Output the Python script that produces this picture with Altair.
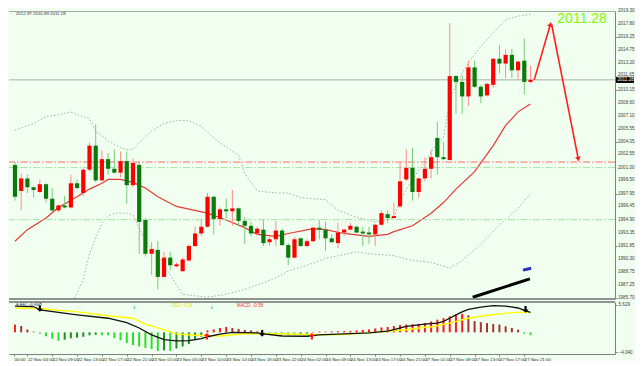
import altair as alt
import pandas as pd

# ---------------- candles (H1 bars, index k) ----------------
opens = [2001.31, 1998.26, 1999.73, 1998.71, 1998.14, 1999.05, 1997.35, 1995.99, 1996.56, 1996.33,
         1999.16, 1998.03, 2000.75, 2003.57, 1999.50, 2001.99, 2000.86, 2000.41, 2001.76, 1998.94,
         2001.31, 1994.86, 1990.90, 1991.36, 1988.19, 1990.45, 1989.43, 1988.87, 1990.11, 1991.81,
         1993.28, 1994.07, 1997.58, 1994.98, 1996.11, 1995.88, 1996.22, 1994.75, 1994.18, 1993.28,
         1993.73, 1992.26, 1992.60, 1993.62, 1991.92, 1990.45, 1992.71, 1991.81, 1992.37, 1993.96,
         1993.73, 1992.71, 1992.15, 1993.39, 1993.73, 1994.07, 1993.50, 1993.39, 1993.17, 1994.30,
         1995.54, 1995.09, 1996.45, 1999.61, 2000.97, 1998.14, 1999.73, 2000.86, 2004.48, 2002.22,
         2001.88, 2011.72, 2011.04, 2009.34, 2012.74, 2010.47, 2009.46, 2010.70, 2013.75, 2013.19,
         2014.21, 2012.40, 2013.53, 2011.04]
highs = [2001.65, 2000.29, 2000.18, 1998.75, 1999.61, 1999.16, 1998.60, 1996.67, 1997.69, 2000.18,
         1999.61, 2000.97, 2003.91, 2006.06, 2003.01, 2002.67, 2003.12, 2002.90, 2002.90, 2002.10,
         2001.65, 1995.09, 1992.26, 1992.37, 1991.13, 1991.13, 1989.89, 1990.45, 1992.03, 1994.07,
         1994.98, 1998.03, 1997.69, 1996.33, 1997.35, 1998.37, 1996.33, 1995.20, 1994.64, 1994.07,
         1994.86, 1992.83, 1994.75, 1993.84, 1992.15, 1992.83, 1992.83, 1992.60, 1994.07, 1994.86,
         1994.64, 1993.17, 1994.52, 1993.84, 1994.52, 1994.18, 1994.07, 1994.07, 1994.41, 1995.99,
         1995.99, 1996.90, 2001.65, 2003.12, 2003.35, 1999.84, 2002.22, 2003.12, 2006.40, 2004.03,
         2017.94, 2011.83, 2011.83, 2013.53, 2013.53, 2010.70, 2010.93, 2013.87, 2015.34, 2014.89,
         2014.89, 2013.53, 2016.13, 2012.97]
lows = [1997.13, 1995.99, 1998.03, 1997.47, 1998.03, 1996.90, 1995.77, 1995.77, 1996.22, 1996.22,
        1998.48, 1997.69, 2000.52, 1999.27, 1999.39, 2000.18, 2000.29, 1999.84, 1996.79, 1998.71,
        1990.90, 1990.57, 1988.42, 1986.72, 1988.08, 1988.98, 1989.32, 1988.75, 1990.00, 1991.70,
        1992.94, 1993.96, 1993.17, 1994.18, 1995.09, 1994.18, 1994.07, 1992.03, 1992.94, 1993.05,
        1991.81, 1991.81, 1991.81, 1991.81, 1989.55, 1990.34, 1991.70, 1991.70, 1992.26, 1992.60,
        1991.24, 1992.15, 1991.58, 1992.94, 1993.62, 1993.28, 1991.81, 1992.03, 1991.81, 1994.18,
        1994.52, 1994.98, 1996.33, 1999.39, 1997.13, 1997.47, 1999.39, 1999.73, 2000.18, 2001.88,
        2001.88, 2007.31, 2007.31, 2008.21, 2010.36, 2008.55, 2009.34, 2010.36, 2012.06, 2011.49,
        2011.49, 2011.38, 2009.57, 2010.89]
closes = [1997.58, 1999.73, 1998.71, 1998.37, 1999.05, 1997.35, 1995.99, 1996.56, 1996.33, 1999.16,
          1998.60, 2000.75, 2003.57, 1999.50, 2001.99, 2000.86, 2000.41, 2001.76, 1998.94, 2001.54,
          1994.64, 1990.90, 1991.47, 1988.19, 1990.45, 1989.55, 1989.66, 1990.23, 1991.81, 1993.28,
          1994.07, 1997.58, 1994.98, 1996.11, 1995.88, 1996.22, 1994.75, 1994.18, 1993.28, 1993.84,
          1992.15, 1992.60, 1993.62, 1991.92, 1990.45, 1992.60, 1991.81, 1992.37, 1993.96, 1993.73,
          1992.71, 1992.26, 1993.39, 1993.73, 1994.18, 1993.39, 1993.28, 1993.17, 1994.30, 1995.66,
          1995.09, 1995.32, 1999.39, 2000.97, 1998.14, 1999.73, 2000.86, 2002.22, 2002.22, 2001.99,
          2011.72, 2011.04, 2009.34, 2012.74, 2010.47, 2009.34, 2010.81, 2013.75, 2013.19, 2014.21,
          2012.40, 2013.42, 2011.04, 2011.28]

# ---------------- Bollinger middle / upper / lower ----------------
ma_k = [0, 2, 5, 7, 10, 12, 14, 15, 17, 19, 21, 23, 26, 31, 34, 37, 39, 42, 44, 48, 50, 53, 57, 60,
        61, 64, 67, 69, 71, 74, 77, 79, 81, 83]
ma_v = [1992.37, 1993.73, 1995.09, 1996.33, 1997.58, 1998.48, 1999.16, 1999.61, 1999.61, 1999.27,
        1998.60, 1997.58, 1996.45, 1995.66, 1994.86, 1993.96, 1993.17, 1992.94, 1993.28, 1993.84,
        1993.73, 1993.28, 1992.94, 1993.17, 1993.50, 1994.18, 1995.66, 1996.90, 1998.48, 2000.52,
        2003.57, 2005.95, 2007.53, 2008.44]
up_k = [0, 3, 5, 7, 9, 10, 12, 13, 15, 17, 18, 19, 20, 22, 24, 26, 28, 30, 32, 33, 36, 37, 39, 42,
        44, 46, 50, 52, 55, 58, 61, 62, 64, 66, 68, 69, 70, 71, 72, 73, 75, 77, 79, 81, 83]
up_v = [2005.38, 2006.18, 2006.97, 2007.19, 2007.53, 2007.19, 2006.74, 2005.27, 2004.14, 2003.35,
        2003.12, 2003.12, 2003.91, 2005.27, 2006.18, 2006.51, 2006.51, 2005.84, 2004.48, 2003.91,
        2002.44, 2000.30, 1998.26, 1998.03, 1998.03, 1997.47, 1997.24, 1995.99, 1995.20, 1994.64,
        1995.09, 1997.13, 1999.61, 2001.65, 2003.91, 2004.50, 2008.80, 2010.60, 2012.10, 2013.30,
        2015.20, 2016.80, 2018.30, 2018.75, 2018.96]
lo_k = [0, 4, 7, 9, 10, 11, 12, 14, 15, 16, 18, 19, 21, 23, 25, 27, 31, 34, 37, 40, 42, 44, 47, 50,
        55, 57, 61, 64, 67, 70, 72, 75, 78, 81, 83]
lo_v = [1979.50, 1981.33, 1983.40, 1984.90, 1986.30, 1987.90, 1990.90, 1994.52, 1995.32, 1995.66,
        1995.66, 1995.43, 1992.37, 1990.68, 1988.42, 1986.15, 1985.81, 1986.15, 1986.72, 1987.51,
        1988.08, 1988.87, 1989.55, 1990.34, 1991.13, 1990.90, 1990.68, 1990.11, 1989.90, 1989.20,
        1990.11, 1992.03, 1994.30, 1996.22, 1997.92]

# ---------------- MACD panel ----------------
hist_v = [1.6, 1.3, 0.6, 0.15, -0.25, -0.8, -1.3, -1.7, -1.5, -1.2,
          -1.1, -0.9, -0.6, -0.5, -0.6, -0.6, -1.2, -1.6, -2.2, -2.6,
          -2.9, -3.2, -3.4, -3.8, -3.7, -3.8, -3.3, -2.9, -2.4, -1.6,
          -0.9, 0.4, 0.6, 0.9, 1.1, 0.9, 0.7, 0.5, 0.4, 0.2,
          -0.1, -0.3, -0.4, -0.5, -0.6, -0.6, -0.5, -0.3, 0.1, 0.15,
          0.15, 0.2, 0.2, 0.25, 0.3, 0.4, 0.5, 0.6, 0.8, 1.0,
          1.1, 1.3, 1.5, 1.6, 1.7, 1.75, 1.9, 2.25, 2.6, 2.9,
          3.3, 3.7, 3.8, 3.5, 2.3, 2.1, 1.9, 1.7, 1.6, 1.25,
          0.9, 0.55, -0.3, -0.58]
dif_k = [0, 3, 4, 10, 15, 18, 20, 22, 24, 26, 28, 30, 31, 33, 35, 37, 39, 40, 43, 47, 49, 53, 57,
         60, 61, 63, 66, 68, 69, 70, 71, 72, 73, 75, 77, 79, 81, 82, 83]
dif_v = [5.4, 5.3, 4.6, 3.6, 2.9, 2.0, 0.9, -0.5, -1.5, -1.75, -1.7, -1.3, -0.9, -0.35, 0.0, -0.05,
         -0.1, -0.3, -0.75, -0.8, -0.5, -0.3, -0.1, 0.25, 0.55, 1.25, 1.7, 1.9, 2.25, 2.9, 3.6, 4.2,
         4.7, 5.2, 5.5, 5.4, 5.0, 4.5, 4.1]
dea_k = [0, 4, 10, 15, 19, 21, 24, 26, 29, 33, 37, 42, 47, 52, 57, 60, 63, 66, 67, 70, 73, 76, 79,
         81, 83]
dea_v = [5.0, 4.9, 4.2, 3.4, 2.9, 1.7, 0.5, -0.3, -0.6, -0.75, -0.3, -0.3, -0.45, -0.5, -0.1, 0.2,
         0.55, 1.05, 1.1, 1.9, 2.9, 3.5, 3.9, 4.1, 4.18]

# ---------------- axis texts ----------------
price_ticks = [2019.30, 2017.80, 2016.25, 2014.75, 2013.20, 2011.65, 2010.15, 2008.60, 2007.10,
               2005.55, 2004.05, 2002.55, 2001.00, 1999.50, 1997.95, 1996.45, 1994.90, 1993.35,
               1991.85, 1990.30, 1988.75, 1987.25, 1985.70]
macd_ticks = [5.629, 0.0, -4.040]
time_labels = ["22 Nov 04:00", "22 Nov 09:00", "22 Nov 13:00", "22 Nov 17:00", "22 Nov 21:00",
               "23 Nov 01:00", "23 Nov 05:00", "23 Nov 10:00", "23 Nov 14:00", "23 Nov 18:00",
               "23 Nov 22:00", "24 Nov 02:00", "24 Nov 09:00", "24 Nov 13:00", "24 Nov 17:00",
               "24 Nov 21:00", "27 Nov 01:00", "27 Nov 09:00", "27 Nov 13:00", "27 Nov 17:00",
               "27 Nov 21:00"]

last_price = closes[-1]
h_levels = [2001.65, 2001.00, 1994.90]
h_colors = ["#FF6A6A", "#A4E4A4", "#A4E4A4"]

# ---------------- layout ----------------
W = 606
H_MAIN = 288
H_LOW = 52
FONT = "Liberation Sans"
xs = alt.Scale(domain=[-0.156, 95.8], nice=False, zero=False)
ps = alt.Scale(domain=[1985.6, 2019.35], nice=False, zero=False)
ms = alt.Scale(domain=[-4.44, 6.23], nice=False, zero=False)
X = alt.X("k:Q", scale=xs, axis=None)

cdf = pd.DataFrame({"k": list(range(len(opens))), "o": opens, "h": highs, "l": lows, "c": closes})
bull = cdf["c"] >= cdf["o"]
cdf["body"] = ["#FF0000" if b else "#0B7A0B" for b in bull]
cdf["wick"] = ["#FF8C8C" if b else "#7ACB7A" for b in bull]

# price axis: ticks from the axis, labels as text marks so that every label is kept
tick_df = pd.DataFrame({"p": price_ticks, "t": [f"{v:.2f}" for v in price_ticks]})
near = (tick_df["p"] - last_price).abs() < 0.8
yaxis = alt.Axis(orient="right", values=price_ticks, labels=False, tickSize=2, tickColor="#808080",
                 domainColor="#808080", grid=False, title=None)
tick_labels = alt.Chart(tick_df[~near]).mark_text(
    align="left", baseline="middle", fontSize=4.6, font=FONT, color="#404040").encode(
    x=alt.value(W + 3), y=alt.Y("p:Q", scale=ps), text="t:N")
tick_labels_near = alt.Chart(tick_df[near]).mark_text(
    align="left", baseline="bottom", fontSize=4.6, font=FONT, color="#404040", dy=0.5).encode(
    x=alt.value(W + 3), y=alt.Y("p:Q", scale=ps), text="t:N")

base_frame = alt.Chart(pd.DataFrame({"a": [0]}))
top_border = base_frame.mark_rule(color="#A8A8A8", strokeWidth=1).encode(
    x=alt.value(0), x2=alt.value(W), y=alt.value(0.5))
sep_main = base_frame.mark_rule(color="#707070", strokeWidth=1.5).encode(
    x=alt.value(0), x2=alt.value(W), y=alt.value(H_MAIN))

band_style = dict(strokeDash=[1.5, 2], color="#A4AEA4", strokeWidth=1, clip=True)
upper = alt.Chart(pd.DataFrame({"k": up_k, "v": up_v})).mark_line(**band_style).encode(
    x=X, y=alt.Y("v:Q", scale=ps, axis=yaxis))
lower = alt.Chart(pd.DataFrame({"k": lo_k, "v": lo_v})).mark_line(**band_style).encode(
    x=X, y=alt.Y("v:Q", scale=ps))
mid = alt.Chart(pd.DataFrame({"k": ma_k, "v": ma_v})).mark_line(
    color="#E53935", strokeWidth=1.2, clip=True).encode(x=X, y=alt.Y("v:Q", scale=ps))

hdf = pd.DataFrame({"p": h_levels, "col": h_colors})
hlines = alt.Chart(hdf).mark_rule(strokeDash=[7, 2, 1.5, 2], strokeWidth=1).encode(
    y=alt.Y("p:Q", scale=ps), color=alt.Color("col:N", scale=None))
pline = alt.Chart(pd.DataFrame({"p": [last_price]})).mark_rule(color="#ABABAB", strokeWidth=1).encode(
    y=alt.Y("p:Q", scale=ps))

wicks = alt.Chart(cdf).mark_rule(strokeWidth=1).encode(
    x=X, y=alt.Y("l:Q", scale=ps), y2="h:Q", color=alt.Color("wick:N", scale=None))
bodies = alt.Chart(cdf).mark_bar(size=4.2, orient="vertical").encode(
    x=X, y=alt.Y("o:Q", scale=ps), y2="c:Q", color=alt.Color("body:N", scale=None))

# indicator strokes near the bottom right
blk = alt.Chart(pd.DataFrame({"k": [73.7, 82.9], "v": [1985.81, 1987.96]})).mark_line(
    color="#000000", strokeWidth=3, clip=True).encode(x=X, y=alt.Y("v:Q", scale=ps))
blu = alt.Chart(pd.DataFrame({"k": [81.8, 83.1], "v": [1988.98, 1989.21]})).mark_line(
    color="#2030C0", strokeWidth=3).encode(x=X, y=alt.Y("v:Q", scale=ps))

# forecast arrows
arr = pd.DataFrame({"k": [83.6, 86.2, 86.4, 90.7],
                    "v": [last_price, 2017.80, 2017.80, 2001.99],
                    "seg": ["a", "a", "b", "b"]})
arrows = alt.Chart(arr).mark_line(color="#FF2020", strokeWidth=1.6).encode(
    x=X, y=alt.Y("v:Q", scale=ps), detail="seg:N")
head_up = alt.Chart(arr.iloc[[1]]).mark_point(shape="triangle-up", filled=True, size=30,
                                              color="#FF2020", opacity=1, angle=17).encode(
    x=X, y=alt.Y("v:Q", scale=ps))
head_dn = alt.Chart(arr.iloc[[3]]).mark_point(shape="triangle-up", filled=True, size=30,
                                              color="#FF2020", opacity=1, angle=169).encode(
    x=X, y=alt.Y("v:Q", scale=ps))

info = alt.Chart(pd.DataFrame({"k": [0.15], "v": [2019.05],
                               "t": ["2012.97 2010.89 2011.28"]})).mark_text(
    align="left", baseline="middle", fontSize=4.4, font=FONT, color="#303030").encode(
    x=X, y=alt.Y("v:Q", scale=ps), text="t:N")
big = alt.Chart(pd.DataFrame({"k": [95.3], "v": [2018.45], "t": [f"{last_price:.2f}"]})).mark_text(
    align="right", baseline="middle", fontSize=14, font=FONT, color="#7CFC00").encode(
    x=X, y=alt.Y("v:Q", scale=ps), text="t:N")
box_path = "M-1,-0.34 L1,-0.34 L1,0.34 L-1,0.34 Z"
pbox = alt.Chart(pd.DataFrame({"p": [last_price]})).mark_point(
    shape=box_path, filled=True, size=324, color="#000000", opacity=1).encode(
    x=alt.value(W + 10), y=alt.Y("p:Q", scale=ps))
ptxt = alt.Chart(pd.DataFrame({"p": [last_price], "t": [f"{last_price:.2f}"]})).mark_text(
    align="left", baseline="middle", fontSize=4.6, font=FONT, color="#FFFFFF").encode(
    x=alt.value(W + 2.5), y=alt.Y("p:Q", scale=ps), text="t:N")

main = alt.layer(upper, lower, mid, hlines, pline, wicks, bodies, blk, blu, arrows, head_up,
                 head_dn, info, big, top_border, sep_main, tick_labels, tick_labels_near,
                 pbox, ptxt).properties(width=W, height=H_MAIN)

# ---------------- MACD panel ----------------
mdf = pd.DataFrame({"k": list(range(len(hist_v))), "v": hist_v})
mdf["z"] = 0.0
prev = [hist_v[0]] + hist_v[:-1]
cols = []
for v, pv in zip(hist_v, prev):
    if v > 0:
        cols.append("#FF1A1A" if v >= pv else "#A83232")
    else:
        cols.append("#2EDB2E" if v <= pv else "#1E8C1E")
mdf["col"] = cols

label_arr = "[" + ",".join("'" + s + "'" for s in time_labels) + "]"
xaxis = alt.Axis(values=[-0.15] + [2 + 4 * j for j in range(len(time_labels))],
                 labelExpr="datum.value < 0 ? '00:00' : " + label_arr + "[round((datum.value - 2) / 4)]",
                 labelAlign="left", labelFontSize=4.4, labelFont=FONT, labelColor="#303030",
                 labelPadding=1, tickSize=2, tickColor="#808080", domainColor="#808080",
                 labelFlush=False, labelOverlap=False, labelBound=False, grid=False, title=None)
XL = alt.X("k:Q", scale=xs, axis=xaxis)
maxis = alt.Axis(orient="right", values=macd_ticks,
                 labelExpr="datum.value == 0 ? '0.00' : format(datum.value, '.3f')",
                 labelFontSize=4.6, labelFont=FONT, labelColor="#404040", tickSize=2,
                 tickColor="#808080", domainColor="#808080", labelPadding=1, grid=False,
                 title=None, labelOverlap=False)

hist = alt.Chart(mdf).mark_bar(size=2, orient="vertical").encode(
    x=XL, y=alt.Y("v:Q", scale=ms, axis=maxis), y2="z:Q", color=alt.Color("col:N", scale=None))
dea = alt.Chart(pd.DataFrame({"k": dea_k, "v": dea_v})).mark_line(
    color="#FFFF00", strokeWidth=1.4).encode(x=XL, y=alt.Y("v:Q", scale=ms))
dif = alt.Chart(pd.DataFrame({"k": dif_k, "v": dif_v})).mark_line(
    color="#111111", strokeWidth=1.3).encode(x=XL, y=alt.Y("v:Q", scale=ms))

dn_path = "M0,1 L-0.9,0.05 L-0.32,0.05 L-0.32,-1 L0.32,-1 L0.32,0.05 L0.9,0.05 Z"
up_path = "M0,-1 L-0.9,-0.05 L-0.32,-0.05 L-0.32,1 L0.32,1 L0.32,-0.05 L0.9,-0.05 Z"
dn_pts = alt.Chart(pd.DataFrame({"k": [4, 39.8, 82.2], "v": [4.9, -0.2, 4.7]})).mark_point(
    shape=dn_path, filled=True, size=45, color="#000000", opacity=1).encode(
    x=XL, y=alt.Y("v:Q", scale=ms))
up_pts = alt.Chart(pd.DataFrame({"k": [30.9, 47.8], "v": [-0.8, -0.8]})).mark_point(
    shape=up_path, filled=True, size=45, color="#FF1A1A", opacity=1).encode(
    x=XL, y=alt.Y("v:Q", scale=ms))

ltxt = pd.DataFrame({"k": [0.15, 25.2, 35.7], "v": [5.55, 5.45, 5.45],
                     "t": ["4.447 -0.498", "DEA:   4.18", "MACD:  -0.58"],
                     "col": ["#404040", "#E8E800", "#FF3030"]})
ltexts = alt.Chart(ltxt).mark_text(align="left", baseline="middle", fontSize=4.6, font=FONT).encode(
    x=XL, y=alt.Y("v:Q", scale=ms), text="t:N", color=alt.Color("col:N", scale=None))
garr = alt.Chart(pd.DataFrame({"k": [19.2, 31.7], "v": [5.3, 5.3], "t": ["↓", "↓"]})).mark_text(
    align="center", baseline="middle", fontSize=6, font="DejaVu Sans", color="#3CC83C").encode(
    x=XL, y=alt.Y("v:Q", scale=ms), text="t:N")

sep_low = base_frame.mark_rule(color="#707070", strokeWidth=1.5).encode(
    x=alt.value(0), x2=alt.value(W), y=alt.value(0))

low = alt.layer(hist, dea, dif, dn_pts, up_pts, ltexts, garr, sep_low).properties(
    width=W, height=H_LOW)

chart = alt.vconcat(main, low, spacing=1).properties(
    background="#F0FFF0", padding=0).configure_view(stroke=None)

chart.save("out.html", embed_options={"renderer": "svg", "actions": False})
